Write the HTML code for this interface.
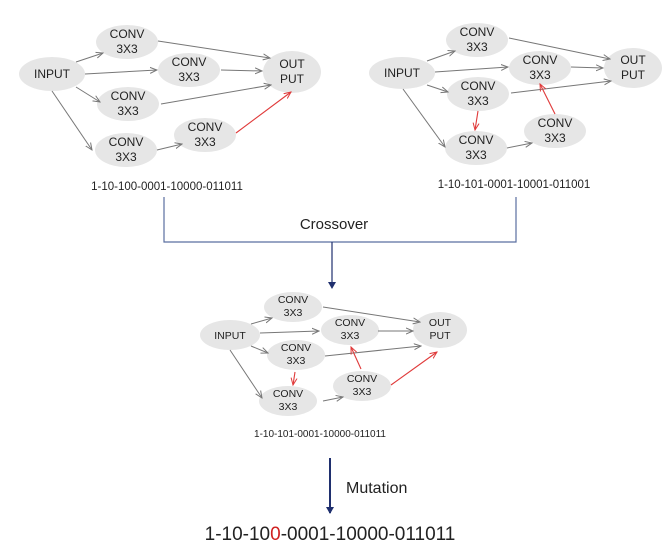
<!DOCTYPE html>
<html><head><meta charset="utf-8"><style>
html,body{margin:0;padding:0;background:#fff;}
svg{display:block;font-family:"Liberation Sans","Noto Sans CJK KR",sans-serif;}
</style></head><body>
<svg width="666" height="552" viewBox="0 0 666 552" xmlns="http://www.w3.org/2000/svg">
<defs>
<marker id="g" markerWidth="8" markerHeight="8" refX="7" refY="4" orient="auto" markerUnits="userSpaceOnUse"><path d="M0,1 L7,4 L0,7" fill="none" stroke="#777" stroke-width="1"/></marker>
<marker id="r" markerWidth="8" markerHeight="8" refX="7" refY="4" orient="auto" markerUnits="userSpaceOnUse"><path d="M0,1 L7,4 L0,7" fill="none" stroke="#e03a3a" stroke-width="1"/></marker>
<marker id="b" markerWidth="8" markerHeight="8" refX="6" refY="4" orient="auto" markerUnits="userSpaceOnUse"><path d="M0,0 L7,4 L0,8 Z" fill="#1f2f6e"/></marker>
</defs>
<g fill="#e6e6e6">
<ellipse cx="52" cy="74" rx="33" ry="17"/>
<ellipse cx="127" cy="42" rx="31" ry="17"/>
<ellipse cx="189" cy="70" rx="31" ry="17"/>
<ellipse cx="128" cy="104" rx="31" ry="17"/>
<ellipse cx="126" cy="150" rx="31" ry="17"/>
<ellipse cx="205" cy="135" rx="31" ry="17"/>
<ellipse cx="292" cy="72" rx="29" ry="21"/>
<ellipse cx="402" cy="73" rx="33" ry="16"/>
<ellipse cx="477" cy="40" rx="31" ry="17"/>
<ellipse cx="540" cy="68" rx="31" ry="17"/>
<ellipse cx="478" cy="94" rx="31" ry="17"/>
<ellipse cx="476" cy="148" rx="31" ry="17"/>
<ellipse cx="555" cy="131" rx="31" ry="17"/>
<ellipse cx="633" cy="68" rx="29" ry="20"/>
<ellipse cx="230" cy="335" rx="30" ry="15"/>
<ellipse cx="293" cy="307" rx="29" ry="15"/>
<ellipse cx="350" cy="330" rx="29" ry="15"/>
<ellipse cx="296" cy="355" rx="29" ry="15"/>
<ellipse cx="288" cy="401" rx="29" ry="15"/>
<ellipse cx="362" cy="386" rx="29" ry="15"/>
<ellipse cx="440" cy="330" rx="27" ry="18"/>
</g>
<g stroke="#777" stroke-width="1" fill="none" marker-end="url(#g)">
<line x1="76" y1="62" x2="103" y2="53"/>
<line x1="85" y1="74" x2="157" y2="70"/>
<line x1="76" y1="87" x2="100" y2="102"/>
<line x1="52" y1="91" x2="92" y2="150"/>
<line x1="158" y1="41" x2="270" y2="58"/>
<line x1="221" y1="70" x2="262" y2="71"/>
<line x1="161" y1="104" x2="271" y2="85"/>
<line x1="157" y1="150" x2="182" y2="144"/>
<line x1="427" y1="61" x2="455" y2="51"/>
<line x1="435" y1="72" x2="508" y2="67"/>
<line x1="427" y1="85" x2="448" y2="92"/>
<line x1="403" y1="89" x2="445" y2="147"/>
<line x1="509" y1="38" x2="610" y2="59"/>
<line x1="571" y1="67" x2="603" y2="68"/>
<line x1="511" y1="93" x2="611" y2="81"/>
<line x1="507" y1="148" x2="532" y2="143"/>
<line x1="251" y1="324" x2="272" y2="318"/>
<line x1="260" y1="333" x2="319" y2="331"/>
<line x1="251" y1="346" x2="268" y2="353"/>
<line x1="230" y1="350" x2="262" y2="398"/>
<line x1="323" y1="307" x2="420" y2="322"/>
<line x1="378" y1="331" x2="413" y2="331"/>
<line x1="325" y1="356" x2="421" y2="346"/>
<line x1="323" y1="401" x2="343" y2="397"/>
</g>
<g stroke="#e03a3a" stroke-width="1.1" fill="none" marker-end="url(#r)">
<line x1="236" y1="133" x2="291" y2="92"/>
<line x1="478" y1="111" x2="475" y2="130"/>
<line x1="555" y1="114" x2="540" y2="84"/>
<line x1="295" y1="372" x2="293" y2="385"/>
<line x1="361" y1="369" x2="351" y2="347"/>
<line x1="391" y1="385" x2="437" y2="352"/>
</g>
<g font-size="12" fill="#222" text-anchor="middle">
<text x="52" y="78">INPUT</text>
<text x="127" y="38">CONV</text><text x="127" y="53">3X3</text>
<text x="189" y="66">CONV</text><text x="189" y="81">3X3</text>
<text x="128" y="100">CONV</text><text x="128" y="115">3X3</text>
<text x="126" y="146">CONV</text><text x="126" y="161">3X3</text>
<text x="205" y="131">CONV</text><text x="205" y="146">3X3</text>
<text x="292" y="68">OUT</text><text x="292" y="83">PUT</text>
<text x="402" y="77">INPUT</text>
<text x="477" y="36">CONV</text><text x="477" y="51">3X3</text>
<text x="540" y="64">CONV</text><text x="540" y="79">3X3</text>
<text x="478" y="90">CONV</text><text x="478" y="105">3X3</text>
<text x="476" y="144">CONV</text><text x="476" y="159">3X3</text>
<text x="555" y="127">CONV</text><text x="555" y="142">3X3</text>
<text x="633" y="64">OUT</text><text x="633" y="79">PUT</text>
</g>
<g font-size="10.5" fill="#222" text-anchor="middle">
<text x="230" y="339">INPUT</text>
<text x="293" y="303">CONV</text><text x="293" y="316">3X3</text>
<text x="350" y="326">CONV</text><text x="350" y="339">3X3</text>
<text x="296" y="351">CONV</text><text x="296" y="364">3X3</text>
<text x="288" y="397">CONV</text><text x="288" y="410">3X3</text>
<text x="362" y="382">CONV</text><text x="362" y="395">3X3</text>
<text x="440" y="326">OUT</text><text x="440" y="339">PUT</text>
</g>
<text x="167" y="190" font-size="11.5" fill="#222" text-anchor="middle">1-10-100-0001-10000-011011</text>
<text x="514" y="188" font-size="11.5" fill="#222" text-anchor="middle">1-10-101-0001-10001-011001</text>
<text x="320" y="437" font-size="10" fill="#222" text-anchor="middle">1-10-101-0001-10000-011011</text>
<polyline points="164,197 164,242 516,242 516,197" fill="none" stroke="#5a6fa0" stroke-width="1.2"/>
<line x1="332" y1="242" x2="332" y2="288" stroke="#1f2f6e" stroke-width="1.2" marker-end="url(#b)"/>
<text x="334" y="229" font-size="15" fill="#222" text-anchor="middle">Crossover</text>
<line x1="330" y1="458" x2="330" y2="513" stroke="#1f2f6e" stroke-width="2" marker-end="url(#b)"/>
<text x="346" y="493" font-size="16" fill="#222">Mutation</text>
<text x="330" y="540" font-size="19" fill="#222" text-anchor="middle">1-10-10<tspan fill="#d02020">0</tspan>-0001-10000-011011</text>
</svg>
</body></html>
